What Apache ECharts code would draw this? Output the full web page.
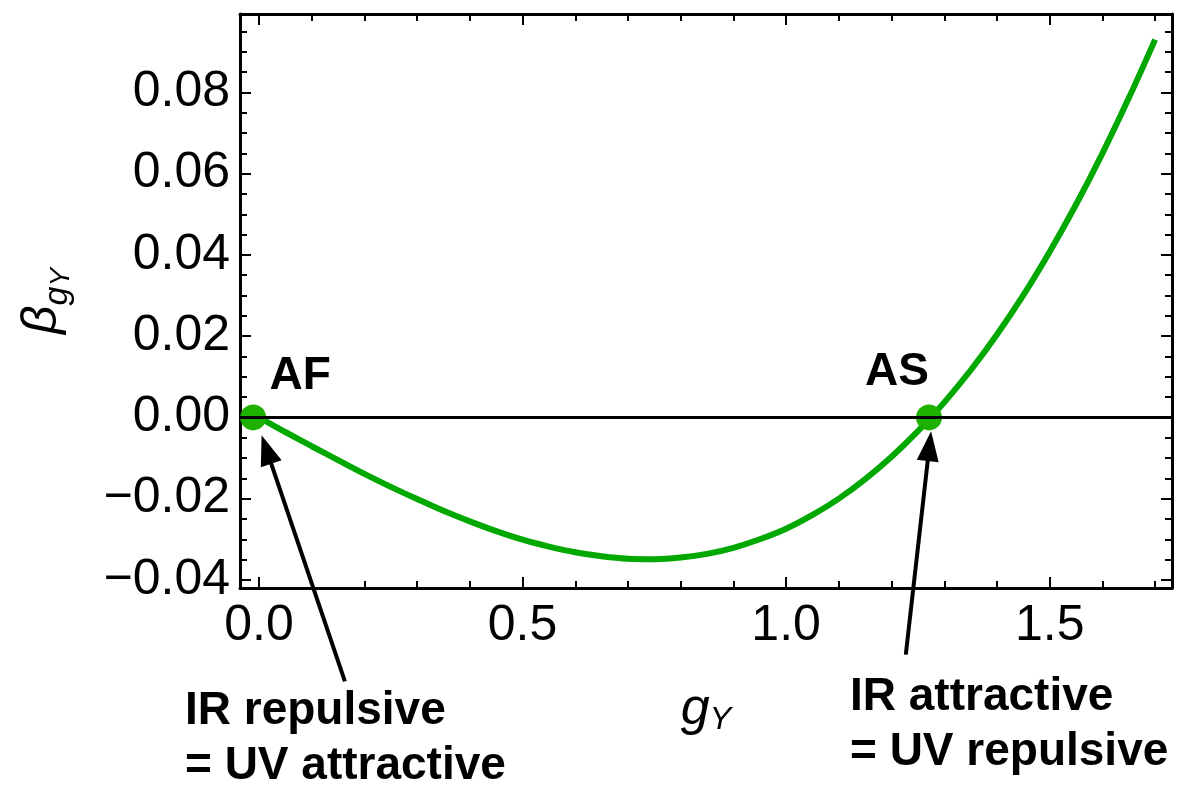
<!DOCTYPE html>
<html>
<head>
  <meta charset="utf-8">
  <title>beta function</title>
  <script src="https://cdn.jsdelivr.net/npm/echarts@6/dist/echarts.min.js"></script>
  <style>
    html, body { margin: 0; padding: 0; background: #fff; }
    #main { width: 1182px; height: 786px; }
  </style>
</head>
<body>
<div id="main"></div>
<script type="text/javascript">
// curve
var gVals = [0, 0.05, 0.1, 0.15, 0.2, 0.25, 0.3, 0.35, 0.4, 0.45, 0.5, 0.55, 0.6, 0.65, 0.7, 0.75, 0.8, 0.85,
             0.9, 0.95, 1.0, 1.05, 1.1, 1.15, 1.2, 1.25, 1.3, 1.35, 1.4, 1.45, 1.5, 1.55, 1.6, 1.65, 1.7];
var betaVals = [0, -0.0036, -0.0071, -0.0105, -0.0139, -0.0171, -0.0201, -0.0230, -0.0256, -0.0280, -0.0301,
                -0.0318, -0.0332, -0.0342, -0.0348, -0.0349, -0.0345, -0.0336, -0.0321, -0.0300, -0.0274,
                -0.0240, -0.0200, -0.0152, -0.0097, -0.0034, 0.0037, 0.0116, 0.0204, 0.0301, 0.0408,
                0.0524, 0.0650, 0.0786, 0.0930];

// fixed points
var fpNames = ['AF', 'AS'];
var fpG = [-0.011, 1.271];
var fpBeta = [0, 0];

// tick labels
var xMajor = [0, 0.5, 1.0, 1.5];
var yMajor = [-0.04, -0.02, 0, 0.02, 0.04, 0.06, 0.08];

// annotation text
var noteLeft = 'IR repulsive\n= UV attractive';
var noteRight = 'IR attractive\n= UV repulsive';

var xMinor = [];
for (var i = 1; i <= 17; i++) { if (i % 5) xMinor.push(i / 10); }
var yMinor = [];
for (var j = -8; j <= 19; j++) { if (j % 4) yMinor.push(j * 5 / 1000); }

var X_MIN = -0.036, X_MAX = 1.732, Y_MIN = -0.042, Y_MAX = 0.0993;
var FONT = 'Liberation Sans';

function mkAxis(min, max, pos, ticks, len, showLine, labels, fmt) {
  return {
    type: 'value', position: pos, min: min, max: max,
    splitLine: { show: false },
    axisLine: { show: showLine, onZero: false, lineStyle: { color: '#000', width: 3 } },
    axisTick: { show: true, inside: true, length: len, customValues: ticks,
                lineStyle: { color: '#000', width: 2 } },
    axisLabel: labels ? { show: true, customValues: labels, formatter: fmt, color: '#000',
                          fontFamily: FONT, fontSize: 50, margin: pos === 'bottom' ? 13 : 10 }
                      : { show: false }
  };
}

var fmtX = function (v) { return v.toFixed(1); };
var fmtY = function (v) { return (v < -1e-9 ? '\u2212' : '') + Math.abs(v).toFixed(2); };

var xAxes = [
  mkAxis(X_MIN, X_MAX, 'bottom', xMajor, 11, true, xMajor, fmtX),
  mkAxis(X_MIN, X_MAX, 'bottom', xMinor, 7, false, null),
  mkAxis(X_MIN, X_MAX, 'top', xMajor, 11, true, null),
  mkAxis(X_MIN, X_MAX, 'top', xMinor, 7, false, null)
];
xAxes[0].name = '{g|g}{s|Y}';
xAxes[0].nameLocation = 'middle';
xAxes[0].nameGap = 90;
xAxes[0].nameTextStyle = {
  rich: {
    g: { fontFamily: FONT, fontStyle: 'italic', fontSize: 52, lineHeight: 58, verticalAlign: 'bottom', color: '#000' },
    s: { fontFamily: FONT, fontStyle: 'italic', fontSize: 32, lineHeight: 58, verticalAlign: 'bottom', color: '#000' }
  }
};

var yAxes = [
  mkAxis(Y_MIN, Y_MAX, 'left', yMajor, 11, true, yMajor, fmtY),
  mkAxis(Y_MIN, Y_MAX, 'left', yMinor, 7, false, null),
  mkAxis(Y_MIN, Y_MAX, 'right', yMajor, 11, true, null),
  mkAxis(Y_MIN, Y_MAX, 'right', yMinor, 7, false, null)
];
yAxes[0].name = '{b|\u03B2}{g|g}{s|Y}';
yAxes[0].nameLocation = 'middle';
yAxes[0].nameRotate = 90;
yAxes[0].nameGap = 165;
yAxes[0].nameTextStyle = {
  rich: {
    b: { fontFamily: FONT, fontStyle: 'italic', fontSize: 50, lineHeight: 60, verticalAlign: 'bottom', padding: [0, 0, 8, 0], color: '#000' },
    g: { fontFamily: FONT, fontStyle: 'italic', fontSize: 34, lineHeight: 60, verticalAlign: 'bottom', color: '#000' },
    s: { fontFamily: FONT, fontStyle: 'italic', fontSize: 28, lineHeight: 60, verticalAlign: 'bottom', color: '#000' }
  }
};

var curve = [];
for (var k = 0; k < gVals.length; k++) curve.push([gVals[k], betaVals[k]]);

var labelOffsets = [[47, 0], [-32, -4]];
var points = [];
for (var m = 0; m < fpNames.length; m++) {
  points.push({ name: fpNames[m], value: [fpG[m], fpBeta[m]], label: { offset: labelOffsets[m] } });
}

var myChart = echarts.init(document.getElementById('main'));
myChart.setOption({
  animation: false,
  backgroundColor: '#fff',
  grid: { left: 240, right: 10, top: 14, bottom: 198 },
  xAxis: xAxes,
  yAxis: yAxes,
  series: [
    {
      type: 'line', xAxisIndex: 0, yAxisIndex: 0, data: curve,
      smooth: 0.35, showSymbol: false, z: 3,
      lineStyle: { color: '#00a800', width: 6 },
      markLine: {
        silent: true, symbol: ['none', 'none'], label: { show: false },
        lineStyle: { color: '#000', width: 3, type: 'solid', opacity: 1 },
        data: [{ yAxis: 0 }]
      }
    },
    {
      type: 'scatter', xAxisIndex: 0, yAxisIndex: 0, data: points, z: 4,
      symbolSize: 26, itemStyle: { color: '#1fb100', opacity: 1 },
      label: {
        show: true, position: 'top', formatter: '{b}', color: '#000', opacity: 1,
        fontFamily: FONT, fontWeight: 'bold', fontSize: 46
      }
    }
  ]
});

// arrows from the notes up to the fixed points
var arrows = [
  { tip: [0.005, -0.0044], tail: [0.163, -0.065] },
  { tip: [1.275, -0.0034], tail: [1.227, -0.0584] }
];
var gfx = [];
arrows.forEach(function (a) {
  var p = myChart.convertToPixel({ xAxisIndex: 0, yAxisIndex: 0 }, a.tip);
  var q = myChart.convertToPixel({ xAxisIndex: 0, yAxisIndex: 0 }, a.tail);
  var dx = p[0] - q[0], dy = p[1] - q[1];
  var L = Math.sqrt(dx * dx + dy * dy);
  var ux = dx / L, uy = dy / L;
  var hl = 30, hw = 11;
  var bx = p[0] - ux * hl, by = p[1] - uy * hl;
  gfx.push({
    type: 'line', z: 10,
    shape: { x1: q[0], y1: q[1], x2: bx + ux * 4, y2: by + uy * 4 },
    style: { stroke: '#000', lineWidth: 4 }
  });
  gfx.push({
    type: 'polygon', z: 10,
    shape: { points: [[p[0], p[1]], [bx - uy * hw, by + ux * hw], [bx + uy * hw, by - ux * hw]] },
    style: { fill: '#000' }
  });
});
gfx.push({
  type: 'text', x: 185, y: 684, z: 10,
  style: { text: noteLeft, fontFamily: FONT, fontWeight: 'bold', fontSize: 46, lineHeight: 55, fill: '#000' }
});
gfx.push({
  type: 'text', x: 850, y: 670, z: 10,
  style: { text: noteRight, fontFamily: FONT, fontWeight: 'bold', fontSize: 46, lineHeight: 55, fill: '#000' }
});
myChart.setOption({ graphic: gfx });
</script>
</body>
</html>
